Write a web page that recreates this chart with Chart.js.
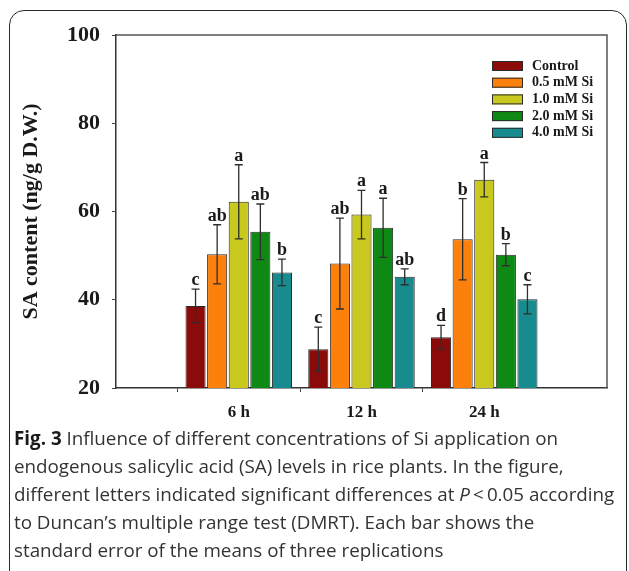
<!DOCTYPE html>
<html>
<head>
<meta charset="utf-8">
<script src="https://cdn.jsdelivr.net/npm/chart.js@4"></script>
<style>
  html, body { margin: 0; padding: 0; background: #fff; }
  body { width: 629px; height: 571px; overflow: hidden; position: relative; }
  #frame {
    position: absolute; left: 9px; top: 10px; width: 616px; height: 575px;
    border: 1.5px solid #2a2a2a; border-radius: 15px;
  }
  #chart { position: absolute; left: 0; top: 0; }
  #caption {
    position: absolute; left: 14px; top: 424px; width: 614px;
    font-family: "Open Sans", sans-serif; font-size: 18.8px; line-height: 28px; color: #333;
    white-space: nowrap;
  }
  #caption b { font-weight: 700; color: #1a1a1a; }
</style>
</head>
<body>
<div id="frame"></div>
<canvas id="chart" width="629" height="571"></canvas>
<div id="caption">
<b>Fig. 3</b> Influence of different concentrations of Si application on<br>
endogenous salicylic acid (SA) levels in rice plants. In the figure,<br>
different letters indicated significant differences at <i>P</i>&thinsp;&lt;&thinsp;0.05 according<br>
to Duncan’s multiple range test (DMRT). Each bar shows the<br>
standard error of the means of three replications
</div>
<script>
//datos
const horas = ['6 h', '12 h', '24 h'];
const tratamientos = ['Control', '0.5 mM Si', '1.0 mM Si', '2.0 mM Si', '4.0 mM Si'];
const colores = ['#8b0a0a', '#fb800c', '#c8c81e', '#0e8a14', '#188b8f'];

const control = [38.6, 28.8, 31.5];
const si05 = [50.3, 48.2, 53.7];
const si10 = [62.2, 59.3, 67.2];
const si20 = [55.4, 56.3, 50.2];
const si40 = [46.2, 45.2, 40.1];

const errControl = [3.8, 5.0, 2.7];
const errSi05 = [6.7, 10.3, 9.2];
const errSi10 = [8.4, 5.5, 3.9];
const errSi20 = [6.3, 6.7, 2.5];
const errSi40 = [3.0, 1.8, 3.3];

const letrasControl = ['c', 'c', 'd'];
const letrasSi05 = ['ab', 'ab', 'b'];
const letrasSi10 = ['a', 'a', 'a'];
const letrasSi20 = ['ab', 'a', 'b'];
const letrasSi40 = ['b', 'ab', 'c'];

const yTicks = [20, 40, 60, 80, 100];

const valores = [control, si05, si10, si20, si40];
const errores = [errControl, errSi05, errSi10, errSi20, errSi40];
const letras = [letrasControl, letrasSi05, letrasSi10, letrasSi20, letrasSi40];

// empty slots on each side so the groups sit at 1/4, 1/2, 3/4
const etiquetas = [''].concat(horas, ['']);
const rellenar = arr => [null].concat(arr, [null]);

const serif = '"Liberation Serif", "Times New Roman", serif';

const datasets = tratamientos.map((t, i) => ({
    label: t,
    data: rellenar(valores[i]),
    errores: rellenar(errores[i]),
    letras: rellenar(letras[i]),
    backgroundColor: colores[i],
    borderColor: '#2a2a2a',
    borderWidth: 1,
    categoryPercentage: 0.88,
    barPercentage: 0.93,
}));

//plugin: error bars, letters, frame and legend
const extras = {
    id: 'extras',
    afterDatasetsDraw(chart) {
        const c = chart.ctx;
        const y = chart.scales.y;
        const area = chart.chartArea;

        chart.data.datasets.forEach((ds, i) => {
            const meta = chart.getDatasetMeta(i);
            meta.data.forEach((bar, j) => {
                const v = ds.data[j];
                if (v === null) return;
                const e = ds.errores[j];
                const yTop = y.getPixelForValue(v + e);
                const yBot = y.getPixelForValue(v - e);
                c.save();
                c.strokeStyle = '#2e2e2e';
                c.lineWidth = 1.3;
                c.beginPath();
                c.moveTo(bar.x, yTop);
                c.lineTo(bar.x, yBot);
                c.moveTo(bar.x - 4, yTop);
                c.lineTo(bar.x + 4, yTop);
                c.moveTo(bar.x - 4, yBot);
                c.lineTo(bar.x + 4, yBot);
                c.stroke();
                c.fillStyle = '#1a1a1a';
                c.font = 'bold 18px ' + serif;
                c.textAlign = 'center';
                c.textBaseline = 'alphabetic';
                c.fillText(ds.letras[j], bar.x, yTop - 4);
                c.restore();
            });
        });

        // top and right sides of the box
        c.save();
        c.strokeStyle = '#555';
        c.lineWidth = 1.5;
        c.beginPath();
        c.moveTo(area.left, area.top);
        c.lineTo(area.right, area.top);
        c.lineTo(area.right, area.bottom);
        c.stroke();

        // legend
        c.font = 'bold 14px ' + serif;
        c.textBaseline = 'middle';
        c.textAlign = 'left';
        chart.data.datasets.forEach((ds, i) => {
            const cy = 66 + i * 16.7;
            c.fillStyle = ds.backgroundColor;
            c.fillRect(492, cy - 5, 31, 10);
            c.strokeStyle = '#2a2a2a';
            c.lineWidth = 1;
            c.strokeRect(492.5, cy - 4.5, 30, 9);
            c.fillStyle = '#1a1a1a';
            c.fillText(ds.label, 532, cy);
        });
        c.restore();
    }
};

const config = {
    type: 'bar',
    data: { labels: etiquetas, datasets: datasets },
    options: {
        responsive: false,
        animation: false,
        devicePixelRatio: 1,
        layout: { padding: { left: 0, top: 35, right: 22, bottom: 143 } },
        plugins: {
            legend: { display: false },
            tooltip: { enabled: false },
        },
        scales: {
            x: {
                offset: false,
                grid: {
                    drawOnChartArea: false,
                    drawTicks: true,
                    tickLength: 4,
                    color: ctx => (ctx.index === 0 || ctx.index === 4) ? 'rgba(0,0,0,0)' : '#444',
                },
                border: { color: '#333', width: 1.5 },
                ticks: {
                    color: '#1a1a1a',
                    padding: 10,
                    maxRotation: 0,
                    autoSkip: false,
                    font: { family: serif, size: 17, weight: 'bold' },
                },
                afterFit: s => { s.height = 40; },
            },
            y: {
                min: 20,
                max: 100,
                afterBuildTicks: s => { s.ticks = yTicks.map(v => ({ value: v })); },
                grid: {
                    drawOnChartArea: false,
                    drawTicks: true,
                    tickLength: 4,
                    color: '#444',
                },
                border: { color: '#333', width: 1.5 },
                ticks: {
                    color: '#1a1a1a',
                    padding: 12,
                    font: { family: serif, size: 22, weight: 'bold' },
                },
                title: {
                    display: true,
                    text: 'SA content (ng/g D.W.)',
                    color: '#1a1a1a',
                    padding: { top: 18, bottom: 0 },
                    font: { family: serif, size: 22, weight: 'bold' },
                },
                afterFit: s => { s.width = 116; },
            },
        },
    },
    plugins: [extras],
};

const grafico = new Chart(document.getElementById('chart'), config);
</script>
</body>
</html>
